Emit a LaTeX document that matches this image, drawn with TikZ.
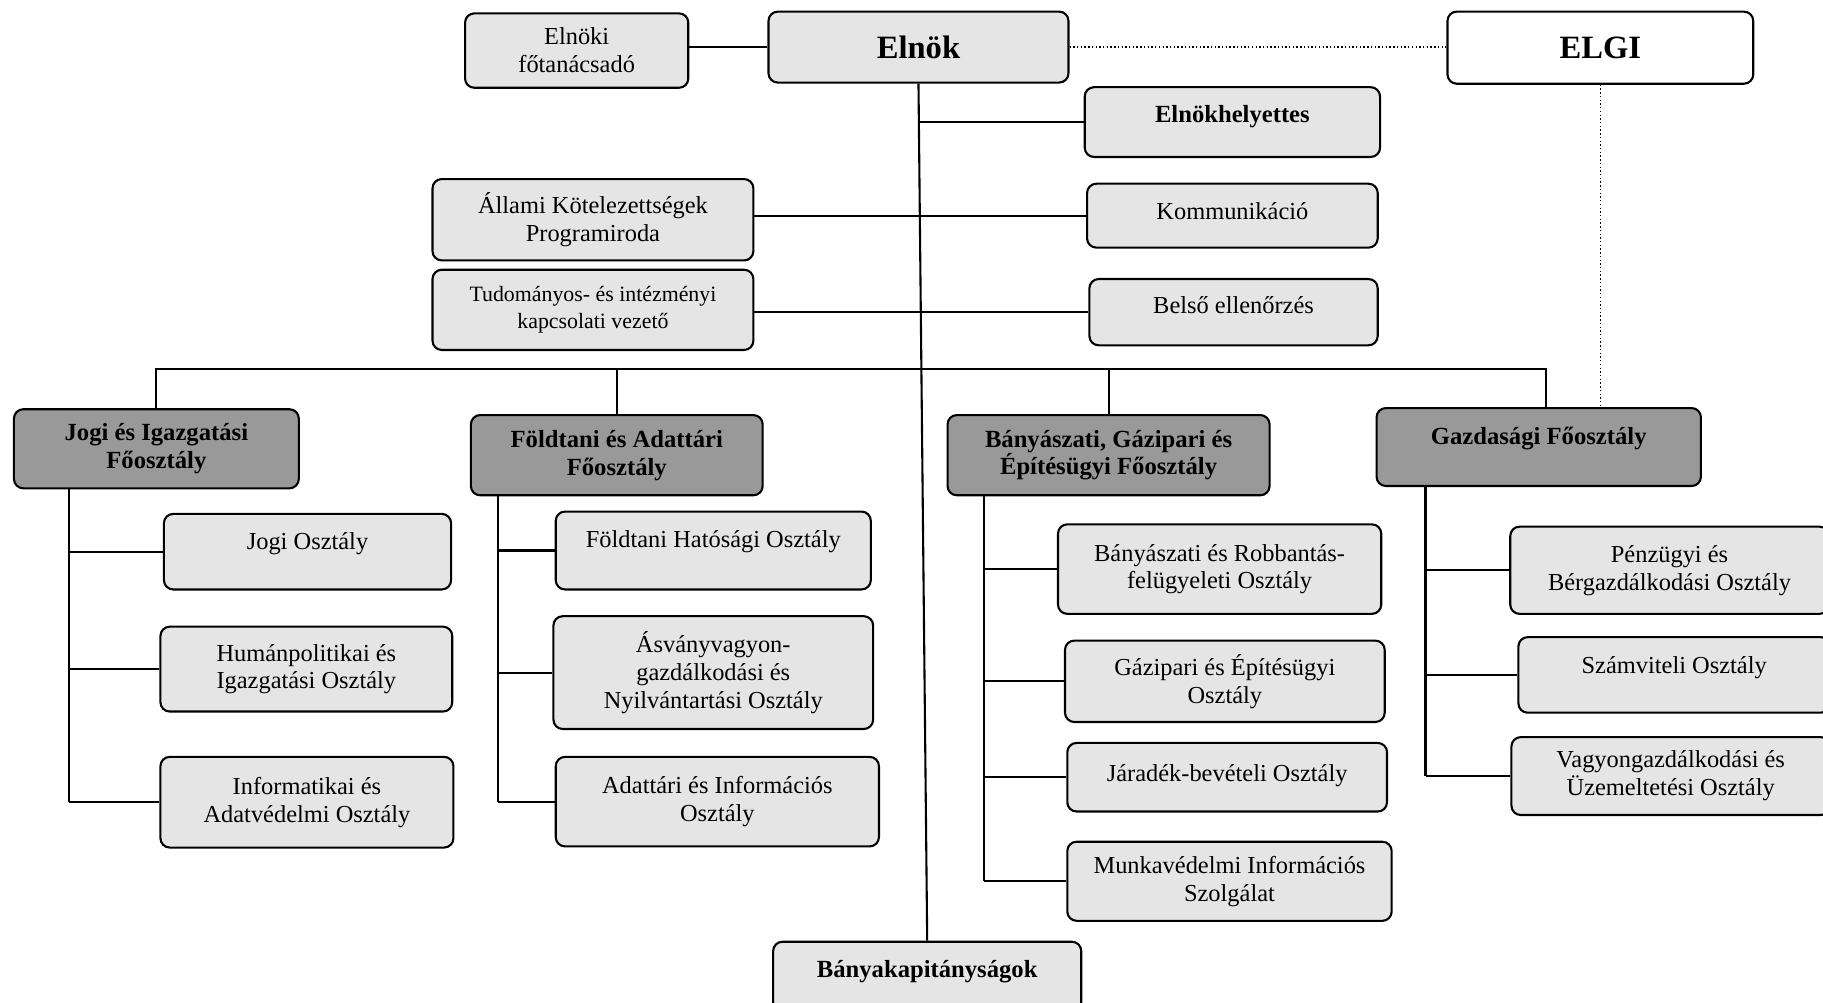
\documentclass[tikz,border=0pt]{standalone}
\usepackage{fontspec}
\setmainfont{Liberation Serif}
\usetikzlibrary{positioning}
\definecolor{lightbox}{gray}{0.9}
\definecolor{darkbox}{gray}{0.6}

\begin{document}
\begin{tikzpicture}[x=0.5pt, y=-0.5pt,
    unit/.style={draw, rectangle, rounded corners=4pt, line width=0.9pt, fill=lightbox, align=center, inner sep=2pt, font=\fontsize{10.5}{12}\selectfont},
    head/.style={unit, fill=darkbox, font=\fontsize{10.6}{12}\selectfont\bfseries},
    boss/.style={unit, font=\fontsize{14}{16}\selectfont\bfseries},
    lift/.style={text depth=#1},
    link/.style={line width=0.9pt},
    loose/.style={line width=0.6pt, densely dotted}]
\useasboundingbox (0,0) rectangle (1568,862);

\node[unit, minimum width=96pt, minimum height=32pt] (elnoki) at (496,43.5) {Elnöki\\főtanácsadó};
\node[boss, minimum width=129pt, minimum height=30.5pt] (elnok) at (790,40.5) {Elnök};
\node[boss, fill=white, minimum width=131.5pt, minimum height=31pt] (elgi) at (1376.5,41) {ELGI};
\node[unit, font=\fontsize{10.6}{12}\selectfont\bfseries, lift=6.8pt, minimum width=127pt, minimum height=30pt] (elnokh) at (1060,105) {Elnökhelyettes};
\node[unit, minimum width=138pt, minimum height=35pt] (allami) at (510,189) {Állami Kötelezettségek\\Programiroda};
\node[unit, lift=4.3pt, minimum width=125pt, minimum height=27.5pt] (komm) at (1060,185.5) {Kommunikáció};
\node[unit, font=\fontsize{9.4}{11.5}\selectfont, minimum width=138pt, minimum height=34.5pt] (tudom) at (510,266.5) {Tudományos- és intézményi\\kapcsolati vezető};
\node[unit, lift=6.3pt, minimum width=124pt, minimum height=28.5pt] (belso) at (1061,268.5) {Belső ellenőrzés};

\node[head, minimum width=122.5pt, minimum height=34pt] (jogi) at (134.5,386) {Jogi és Igazgatási\\Főosztály};
\node[head, minimum width=125.5pt, minimum height=34.5pt] (foldt) at (530.5,391.5) {Földtani és Adattári\\Főosztály};
\node[head, minimum width=138.5pt, minimum height=34.5pt] (banya) at (953.5,391.5) {Bányászati, Gázipari és\\Építésügyi Főosztály};
\node[head, lift=9.3pt, minimum width=139.5pt, minimum height=33.5pt] (gazd) at (1323.5,384.5) {Gazdasági Főosztály};

\node[unit, lift=9.3pt, minimum width=123.5pt, minimum height=32.5pt] (jogio) at (264.5,474.5) {Jogi Osztály};
\node[unit, minimum width=125.5pt, minimum height=36.5pt] (human) at (263.5,575.5) {Humánpolitikai és\\Igazgatási Osztály};
\node[unit, minimum width=126pt, minimum height=39pt] (info) at (264,690) {Informatikai és\\Adatvédelmi Osztály};

\node[unit, lift=10.3pt, minimum width=135.5pt, minimum height=33.5pt] (fhat) at (613.5,473.5) {Földtani Hatósági Osztály};
\node[unit, minimum width=137.5pt, minimum height=48.5pt] (asvany) at (613.5,578.5) {Ásványvagyon-\\gazdálkodási és\\Nyilvántartási Osztály};
\node[unit, minimum width=139pt, minimum height=38.5pt] (adatt) at (617,689.5) {Adattári és Információs\\Osztály};

\node[unit, minimum width=139pt, minimum height=38.5pt] (robb) at (1049,489.5) {Bányászati és Robbantás-\\felügyeleti Osztály};
\node[unit, minimum width=137.5pt, minimum height=35pt] (gazip) at (1053.5,586) {Gázipari és Építésügyi\\Osztály};
\node[unit, lift=4pt, minimum width=137.5pt, minimum height=29.5pt] (jarad) at (1055.5,668.5) {Járadék-bevételi Osztály};
\node[unit, minimum width=139.5pt, minimum height=34pt] (munka) at (1057.5,758) {Munkavédelmi Információs\\Szolgálat};

\node[unit, minimum width=137pt, minimum height=37.5pt] (penz) at (1436,490.5) {Pénzügyi és\\Bérgazdálkodási Osztály};
\node[unit, lift=8.3pt, minimum width=134pt, minimum height=32.5pt] (szamv) at (1440,580.5) {Számviteli Osztály};
\node[unit, minimum width=137pt, minimum height=33.5pt] (vagyon) at (1437,667.5) {Vagyongazdálkodási és\\Üzemeltetési Osztály};

\node[unit, font=\fontsize{10.6}{12}\selectfont\bfseries, lift=6.8pt, minimum width=132.5pt, minimum height=30pt] (banyak) at (797.5,840) {Bányakapitányságok};

\coordinate (bus) at (0,317);
\coordinate (gdrop) at ([xshift=3.25pt]gazd.north);
\coordinate (js) at ([xshift=24pt]jogi.south west);
\coordinate (fs) at ([xshift=12pt]foldt.south west);
\coordinate (bs) at ([xshift=16pt]banya.south west);
\coordinate (gs) at ([xshift=21.5pt]gazd.south west);

\draw[link] (elnoki.east |- elnok.west) -- (elnok.west);
\draw[loose] (elnok.east) -- (elnok.east -| elgi.west);
\draw[loose] (elgi.south) -- (elgi.south |- gazd.north);
\draw[link] (elnok.south) -- (banyak.north);
\draw[link] (elnok.south |- elnokh.west) -- (elnokh.west);
\draw[link] (allami.east |- komm.west) -- (komm.west);
\draw[link] (tudom.east |- belso.west) -- (belso.west);
\draw[link] (jogi.north) -- (jogi.north |- bus) -- (gdrop |- bus) -- (gdrop);
\draw[link] (foldt.north) -- (foldt.north |- bus);
\draw[link] (banya.north) -- (banya.north |- bus);

\draw[link] (js) -- (js |- info.west);
\draw[link] (fs) -- (fs |- adatt.west);
\draw[link] (bs) -- (bs |- munka.west);
\draw[link] (gs) -- (gs |- vagyon.west);
\foreach \s/\b in {js/jogio, js/human, js/info, fs/fhat, fs/asvany, fs/adatt, bs/robb, bs/gazip, bs/jarad, bs/munka, gs/penz, gs/szamv, gs/vagyon}
    \draw[link] (\s |- \b.west) -- (\b.west);
\end{tikzpicture}
\end{document}
